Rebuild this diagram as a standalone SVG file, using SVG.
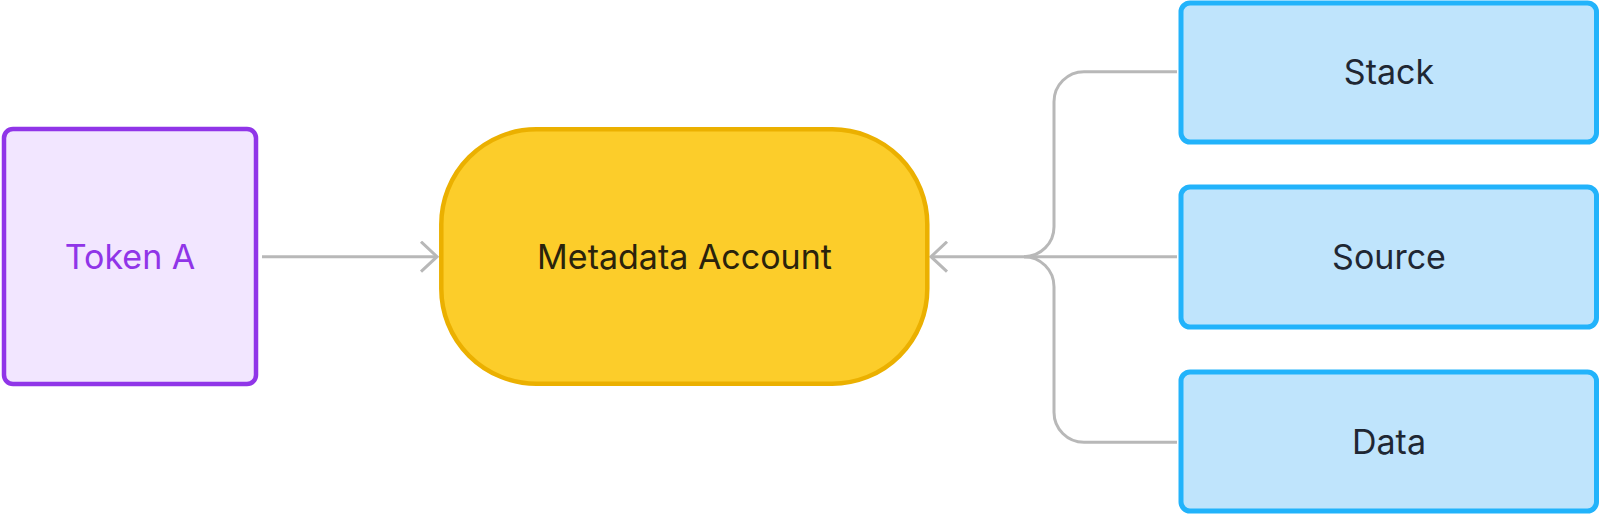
<svg xmlns="http://www.w3.org/2000/svg" width="1600" height="514" viewBox="0 0 1600 514">
<style>
.lbl{font-family:Inter,"Noto Sans","Liberation Sans",sans-serif;font-size:34px;text-anchor:middle}
.conn{fill:none;stroke:#b8b8b8;stroke-width:3}
.blue rect{fill:#bfe4fc;stroke:#22b3fb;stroke-width:5}
.blue text{fill:#1f2733}
</style>
<defs>
<marker id="arr" viewBox="0 0 20 32" refX="18" refY="16" markerWidth="20" markerHeight="32" markerUnits="userSpaceOnUse" orient="auto">
<path d="M2 1 L18 16 L2 31" fill="none" stroke="#b8b8b8" stroke-width="3"/>
</marker>
</defs>
<g id="connectors">
<path class="conn" d="M262 256.7 H437" marker-end="url(#arr)"/>
<path class="conn" d="M1177 256.7 H931" marker-end="url(#arr)"/>
<path class="conn" d="M1177 71.7 H1084 A30 30 0 0 0 1054 101.7 V226.7 A30 30 0 0 1 1024 256.7"/>
<path class="conn" d="M1177 442.3 H1084 A30 30 0 0 1 1054 412.3 V286.7 A30 30 0 0 0 1024 256.7"/>
</g>
<g id="token-a">
<rect x="4" y="129" width="252" height="255" rx="9" fill="#f2e6ff" stroke="#9035e8" stroke-width="4.5"/>
<text class="lbl" x="130" y="269" fill="#9035e8">Token A</text>
</g>
<g id="metadata-account">
<rect x="441.3" y="129.3" width="486" height="254.4" rx="95" fill="#fccd2a" stroke="#ebb000" stroke-width="4.5"/>
<text class="lbl" x="684.5" y="269" fill="#2a230c">Metadata Account</text>
</g>
<g id="stack" class="blue">
<rect x="1181" y="3" width="415.5" height="139" rx="9"/>
<text class="lbl" x="1389" y="84">Stack</text>
</g>
<g id="source" class="blue">
<rect x="1181" y="187" width="415.5" height="140" rx="9"/>
<text class="lbl" x="1389" y="269">Source</text>
</g>
<g id="data" class="blue">
<rect x="1181" y="372" width="415.5" height="139" rx="9"/>
<text class="lbl" x="1389" y="454">Data</text>
</g>
</svg>
